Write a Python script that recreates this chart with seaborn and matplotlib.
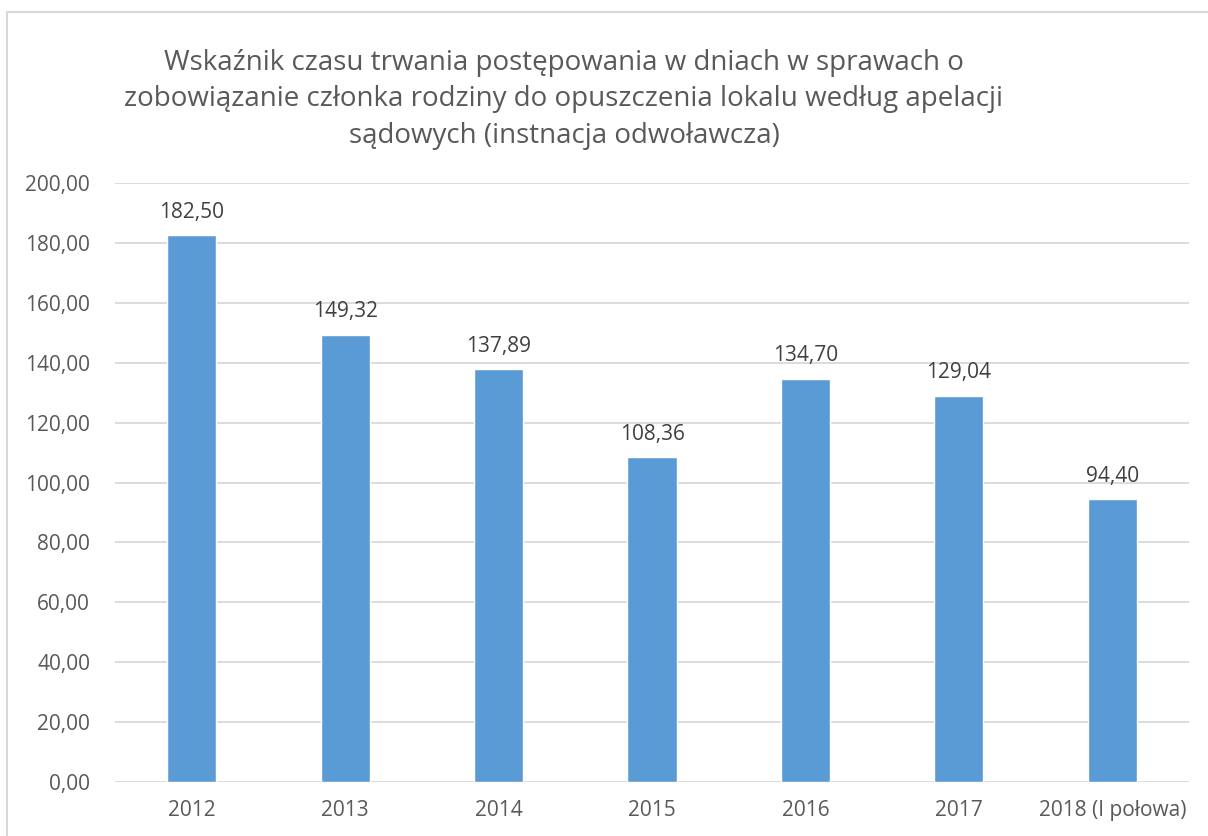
import matplotlib
matplotlib.use("Agg")
import matplotlib.pyplot as plt
import matplotlib.patches as mpatches
import pandas as pd
import seaborn as sns

years = ["2012", "2013", "2014", "2015", "2016", "2017", "2018 (I połowa)"]
values = [182.50, 149.32, 137.89, 108.36, 134.70, 129.04, 94.40]
y_ticks = [0, 20, 40, 60, 80, 100, 120, 140, 160, 180, 200]

TITLE = ("Wskaźnik czasu trwania postępowania w dniach w sprawach o\n"
         "zobowiązanie członka rodziny do opuszczenia lokalu według apelacji\n"
         "sądowych (instnacja odwoławcza)")

BAR = "#5B9BD5"
TEXT = "#595959"
GRID = "#D9D9D9"

sns.set_theme(style="white")
plt.rcParams["font.family"] = ["Open Sans", "DejaVu Sans"]

df = pd.DataFrame({"year": years, "value": values})

fig = plt.figure(figsize=(12.08, 8.36), dpi=100)
ax = fig.add_axes([115 / 1208, 1 - 782 / 836, (1189 - 115) / 1208, (782 - 183) / 836])

sns.barplot(data=df, x="year", y="value", color=BAR, width=0.32,
            saturation=1, ax=ax, zorder=3)

ax.set_ylim(0, 200)
ax.set_yticks(y_ticks)
ax.set_yticklabels([f"{t:.2f}".replace(".", ",") for t in y_ticks],
                   fontsize=15, color=TEXT)
ax.tick_params(axis="x", labelsize=15, labelcolor=TEXT, length=0, pad=13)
ax.tick_params(axis="y", length=0, pad=18)
ax.set_xlabel("")
ax.set_ylabel("")
ax.yaxis.grid(True, color=GRID, linewidth=1.3, zorder=0)
ax.set_axisbelow(True)
for s in ax.spines.values():
    s.set_visible(False)

for i, v in enumerate(values):
    ax.annotate(f"{v:.2f}".replace(".", ","), (i, v), xytext=(0, 9),
                textcoords="offset points", ha="center", va="bottom",
                fontsize=15, color="#404040")

fig.text(564 / 1208, 1 - 49 / 836, TITLE, ha="center", va="top",
         fontsize=20, color=TEXT, linespacing=1.4)

# chart-area border (cut off at right and bottom like the source)
fig.patches.append(mpatches.Rectangle(
    (7 / 1208, -0.1), 1.2, (836 - 12) / 836 + 0.1,
    transform=fig.transFigure, fill=False, edgecolor=GRID, linewidth=1.5))

fig.savefig("out.png", dpi=100)
